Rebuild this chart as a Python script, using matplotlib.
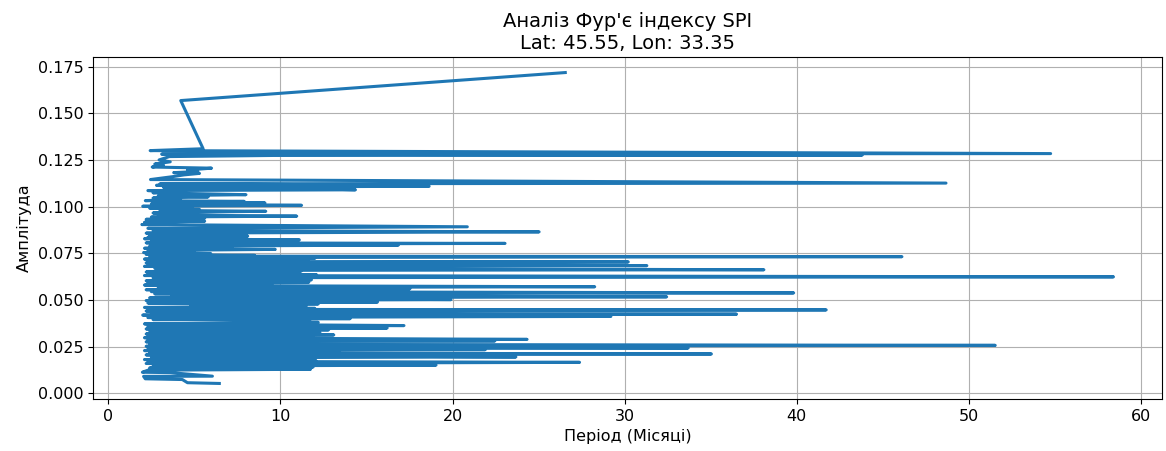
import numpy as np
import matplotlib
matplotlib.use('Agg')
import matplotlib.pyplot as plt


# Точки спектра, впорядковані за спаданням амплітуди (як на графіку)
period_months = [
    26.55, 4.21, 5.51, 2.43, 54.75, 3.10, 43.80, 9.55, 3.55, 2.95,
    3.60, 2.70, 3.20, 2.55, 6.00, 4.60, 5.20, 3.80, 5.30, 4.40,
    3.70, 2.45, 48.67, 3.00, 11.50, 2.80, 18.64, 3.20, 9.80, 14.36,
    2.30, 3.50, 2.60, 8.00, 2.90, 5.80, 2.60, 4.20, 2.15, 7.90,
    3.10, 9.10, 2.50, 11.23, 2.00, 4.90, 2.40, 5.30, 3.00, 9.15,
    6.30, 2.60, 4.50, 2.90, 10.95, 2.50, 5.60, 2.20, 4.00, 5.60,
    2.10, 3.50, 1.95, 20.86, 2.30, 7.50, 2.60, 25.03, 2.20, 6.50,
    2.40, 8.10, 2.30, 3.50, 2.10, 11.10, 2.50, 6.80, 2.20, 23.05,
    3.00, 16.85, 2.40, 7.20, 2.10, 9.70, 2.30, 5.00, 2.05, 5.95,
    2.20, 8.50, 2.40, 46.11, 3.80, 12.00, 2.10, 9.05, 2.30, 11.60,
    2.50, 30.21, 2.20, 10.30, 2.40, 31.29, 2.10, 10.60, 2.70, 38.09,
    3.60, 11.20, 2.20, 10.00, 2.40, 12.10, 2.10, 58.40, 2.60, 5.00,
    11.80, 2.20, 11.65, 2.30, 9.50, 2.10, 12.30, 28.26, 2.90, 17.52,
    2.20, 11.40, 2.50, 39.82, 2.70, 10.80, 3.70, 32.44, 2.40, 11.90,
    19.91, 2.20, 15.64, 2.30, 12.20, 4.80, 11.50, 7.00, 2.10, 12.00,
    2.40, 41.71, 2.20, 13.90, 2.50, 36.50, 2.00, 29.20, 2.30, 14.05,
    2.60, 11.70, 7.30, 12.20, 2.10, 17.18, 2.30, 16.20, 2.20, 12.80,
    2.40, 6.60, 12.30, 2.20, 13.10, 2.50, 11.90, 2.10, 12.50, 24.33,
    2.30, 22.46, 2.20, 12.10, 2.40, 11.50, 51.53, 2.20, 12.60, 33.69,
    2.30, 21.90, 2.10, 5.80, 13.40, 2.40, 35.04, 2.20, 12.20, 23.68,
    2.50, 11.80, 2.10, 12.05, 2.30, 27.38, 2.20, 19.04, 2.60, 11.90,
    2.40, 11.75, 2.30, 1.98, 3.60, 6.05, 2.05, 2.15, 4.30, 4.60,
    6.45,
]

amplitude = [
    .1718, .1568, .1310, .1300, .1284, .1281, .1276, .1274, .1268, .1250,
    .1240, .1228, .1222, .1212, .1206, .1196, .1188, .1182, .1178, .1170,
    .1160, .1145, .1126, .1122, .1118, .1114, .1109, .1104, .1101, .1090,
    .1086, .1080, .1074, .1064, .1058, .1052, .1046, .1040, .1032, .1028,
    .1024, .1020, .1014, .1007, .1002, .0998, .0992, .0985, .0980, .0975,
    .0972, .0966, .0962, .0956, .0949, .0944, .0938, .0932, .0927, .0922,
    .0916, .0910, .0904, .0892, .0884, .0878, .0872, .0865, .0858, .0852,
    .0847, .0842, .0836, .0832, .0828, .0822, .0816, .0810, .0806, .0803,
    .0799, .0794, .0788, .0783, .0777, .0771, .0765, .0760, .0754, .0749,
    .0744, .0739, .0735, .0732, .0727, .0723, .0719, .0716, .0712, .0709,
    .0706, .0704, .0699, .0694, .0690, .0684, .0680, .0675, .0670, .0662,
    .0658, .0654, .0650, .0645, .0640, .0635, .0631, .0624, .0619, .0613,
    .0608, .0603, .0595, .0590, .0585, .0580, .0575, .0571, .0566, .0560,
    .0555, .0550, .0545, .0538, .0533, .0529, .0523, .0517, .0511, .0507,
    .0502, .0497, .0489, .0484, .0479, .0473, .0469, .0465, .0460, .0455,
    .0450, .0447, .0441, .0436, .0431, .0424, .0419, .0412, .0406, .0400,
    .0395, .0390, .0384, .0380, .0372, .0363, .0357, .0350, .0345, .0340,
    .0335, .0330, .0324, .0318, .0313, .0308, .0303, .0298, .0294, .0289,
    .0285, .0281, .0276, .0271, .0266, .0262, .0257, .0252, .0248, .0243,
    .0238, .0234, .0229, .0226, .0222, .0217, .0211, .0206, .0201, .0195,
    .0190, .0185, .0181, .0177, .0172, .0166, .0160, .0151, .0146, .0141,
    .0136, .0129, .0124, .0113, .0111, .0092, .0091, .0078, .0074, .0057,
    .0053,
]

lat, lon = 45.55, 33.35


def main():
    plt.rcParams['font.size'] = 11.5
    fig, ax = plt.subplots(figsize=(11.66, 4.51), dpi=100)
    fig.subplots_adjust(left=0.080, right=0.9966, top=0.8736, bottom=0.1153)

    ax.plot(period_months, amplitude, linewidth=2.2)

    ax.set_title(f"Аналіз Фур'є індексу SPI\nLat: {lat}, Lon: {lon}", fontsize=14)
    ax.set_xlabel('Період (Місяці)', fontsize=11.5)
    ax.set_ylabel('Амплітуда', fontsize=11.5)
    ax.tick_params(labelsize=11.5)
    ax.grid(True)

    fig.savefig('out.png', dpi=100)


if __name__ == '__main__':
    main()
